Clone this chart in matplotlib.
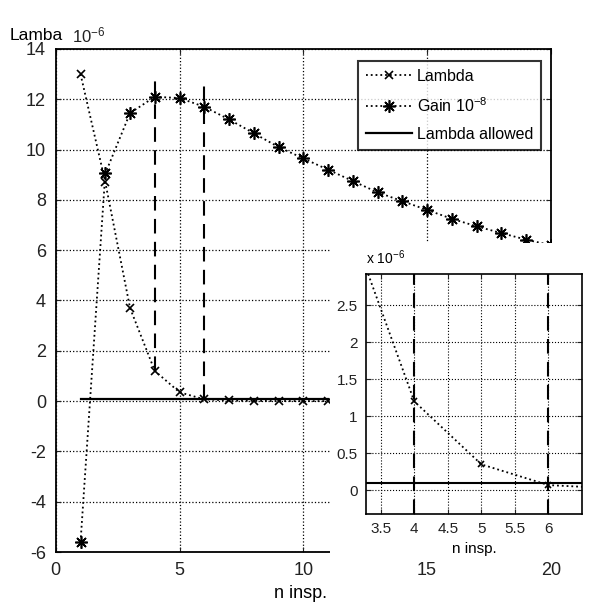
import matplotlib
matplotlib.use("Agg")
import matplotlib.pyplot as plt
from matplotlib.patches import Rectangle

plt.rcParams['font.family'] = ['Liberation Sans', 'DejaVu Sans']
plt.rcParams['mathtext.default'] = 'regular'
plt.rcParams['axes.unicode_minus'] = False

# data (Lambda in 1e-6, Gain in 1e-8)
n_lambda = [1, 2, 3, 4, 5, 6, 7, 8, 9, 10, 11]
lambda_vals = [13.0, 8.7, 3.7, 1.2, 0.35, 0.07, 0.025, 0.008, 0.003, 0.001, 0.0003]
n_gain = list(range(1, 21))
gain_vals = [-5.6, 9.05, 11.45, 12.1, 12.05, 11.7, 11.2, 10.65, 10.1, 9.65,
             9.2, 8.75, 8.3, 7.95, 7.6, 7.25, 6.95, 6.68, 6.42, 6.2]
lambda_allowed = 0.1
n_allowed = [1, 11]
n_marked = [4, 6]
marked_top = 12.8

main_xticks = [0, 5, 10, 15, 20]
main_yticks = list(range(-6, 15, 2))
inset_xticks = [3.5, 4, 4.5, 5, 5.5, 6]
inset_xlabels = ['3.5', '4', '4.5', '5', '5.5', '6']
inset_yticks = [0, 0.5, 1, 1.5, 2, 2.5]
inset_ylabels = ['0', '0.5', '1', '1.5', '2', '2.5']

fig = plt.figure(figsize=(6, 6.07), dpi=100)

# main axes
ax = fig.add_axes([0.093, 0.0906, 0.825, 0.8287])
ax.plot(n_lambda, lambda_vals, ls=':', marker='x', color='k', ms=6, mew=1.2, lw=1.3, label='Lambda')
ax.plot(n_gain, gain_vals, ls=':', marker=(8, 2, 0), color='k', ms=9, mew=1.2, lw=1.3, label='Gain 10$^{-8}$')
ax.plot(n_allowed, [lambda_allowed] * len(n_allowed), '-', color='k', lw=1.6, label='Lambda allowed')
sel = [lambda_vals[n_lambda.index(n)] for n in n_marked]
ax.vlines(n_marked, sel, marked_top, colors='k', linestyles=(0, (7, 4)), lw=1.5)
ax.set_xlim(0, 20)
ax.set_ylim(-6, 14)
ax.set_xticks(main_xticks)
ax.set_yticks(main_yticks)
ax.grid(True, ls=':', color='k', lw=0.9)
ax.tick_params(direction='in', top=True, right=True, labelsize=13, pad=7, colors='#222222')
for s in ax.spines.values():
    s.set_linewidth(1.3)
leg = ax.legend(loc='upper left', bbox_to_anchor=(0.61, 0.976), fancybox=False,
                edgecolor='k', fontsize=11.5, handlelength=2.9, handletextpad=0.3,
                borderpad=0.5, labelspacing=0.75, borderaxespad=0)
leg.get_frame().set_linewidth(1.5)

fig.text(10 / 600, 1 - 36 / 607, 'Lamba', fontsize=12.5, va='center', ha='left')
fig.text(72 / 600, 1 - 35 / 607, '10$^{-6}$', fontsize=12, va='center', ha='left', color='#222222')
fig.text(0.5, 1 - 594 / 607, 'n insp.', fontsize=13, va='center', ha='center')

# white pasted panel for the zoomed inset
fig.patches.append(Rectangle((330 / 600, 1 - 562 / 607), 270 / 600, 319 / 607,
                             transform=fig.transFigure, facecolor='white', edgecolor='none', zorder=2))

ins = fig.add_axes([366 / 600, 1 - 514 / 607, 216 / 600, 240 / 607])
ins.set_zorder(3)
ins.plot(n_lambda, lambda_vals, ls=':', marker='x', color='k', ms=5, mew=1.2, lw=1.3)
ins.axhline(lambda_allowed, color='k', lw=1.5)
for n in n_marked:
    ins.axvline(n, color='k', ls=(0, (7, 4)), lw=1.5)
ins.set_xlim(3.28, 6.5)
ins.set_ylim(-0.32, 2.92)
ins.set_xticks(inset_xticks)
ins.set_xticklabels(inset_xlabels)
ins.set_yticks(inset_yticks)
ins.set_yticklabels(inset_ylabels)
ins.grid(True, ls=':', color='k', lw=0.8)
ins.tick_params(direction='in', top=True, right=True, labelsize=11, pad=6, colors='#222222')
for s in ins.spines.values():
    s.set_linewidth(1.2)
ins.set_xlabel('n insp.', fontsize=11, labelpad=4)
ins.text(0.0, 1.03, 'x 10$^{-6}$', transform=ins.transAxes, fontsize=10, ha='left', va='bottom')

fig.savefig('out.png', dpi=100)
